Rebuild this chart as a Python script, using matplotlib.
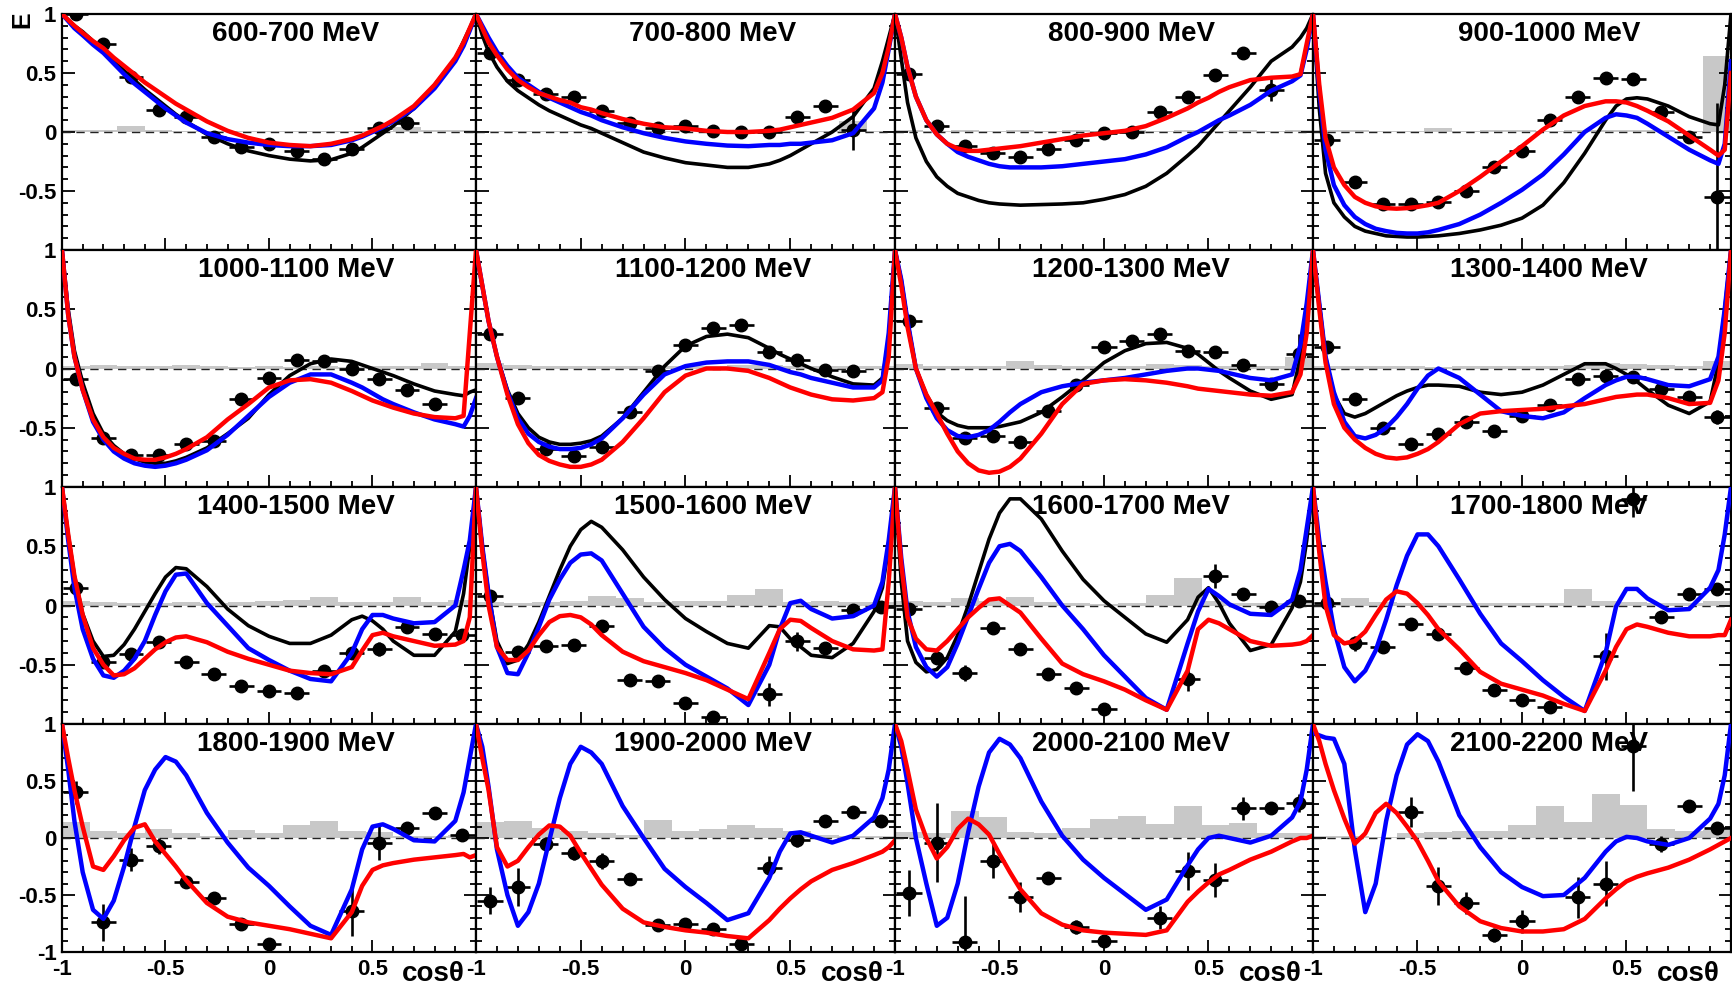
import numpy as np
import matplotlib
matplotlib.use("Agg")
import matplotlib.pyplot as plt
from matplotlib.ticker import MultipleLocator

plt.rcParams['font.family'] = ['Liberation Sans', 'DejaVu Sans']

nan = np.nan

ENERGY_LABELS = ["600-700 MeV", "700-800 MeV", "800-900 MeV", "900-1000 MeV",
                 "1000-1100 MeV", "1100-1200 MeV", "1200-1300 MeV", "1300-1400 MeV",
                 "1400-1500 MeV", "1500-1600 MeV", "1600-1700 MeV", "1700-1800 MeV",
                 "1800-1900 MeV", "1900-2000 MeV", "2000-2100 MeV", "2100-2200 MeV"]

# cos(theta) bin centres, 15 bins of width 2/15
COS_CENTERS = [-0.933, -0.8, -0.667, -0.533, -0.4, -0.267, -0.133, 0.0,
               0.133, 0.267, 0.4, 0.533, 0.667, 0.8, 0.933]
BIN_WIDTH = 2 / 15

# measured E per energy bin (nan = no point)
E_VALUES = [
    [1.0, 0.75, 0.47, 0.19, 0.13, -0.04, -0.13, -0.10, -0.16, -0.23, -0.14, 0.03, 0.08, nan, nan],
    [0.67, 0.44, 0.32, 0.30, 0.18, 0.08, 0.03, 0.05, 0.01, 0.0, 0.0, 0.13, 0.22, 0.02, nan],
    [0.49, 0.05, -0.12, -0.18, -0.21, -0.14, -0.07, -0.01, 0.0, 0.17, 0.30, 0.48, 0.67, 0.36, nan],
    [-0.07, -0.42, -0.61, -0.61, -0.59, -0.50, -0.30, -0.16, 0.10, 0.30, 0.46, 0.45, 0.17, -0.04, -0.55],
    [-0.09, -0.59, -0.73, -0.73, -0.64, -0.61, -0.26, -0.08, 0.07, 0.06, 0.0, -0.09, -0.18, -0.30, nan],
    [0.29, -0.25, -0.68, -0.74, -0.66, -0.37, -0.02, 0.20, 0.34, 0.37, 0.14, 0.07, -0.01, -0.02, nan],
    [0.40, -0.33, -0.59, -0.57, -0.62, -0.36, -0.14, 0.18, 0.23, 0.29, 0.15, 0.14, 0.03, -0.13, 0.12],
    [0.18, -0.26, -0.50, -0.64, -0.55, -0.45, -0.53, -0.40, -0.31, -0.09, -0.06, -0.07, -0.17, -0.24, -0.41],
    [0.15, -0.48, -0.41, -0.31, -0.48, -0.58, -0.68, -0.72, -0.74, -0.55, -0.40, -0.37, -0.18, -0.24, -0.25],
    [0.08, -0.39, -0.34, -0.33, -0.17, -0.63, -0.64, -0.82, -0.94, nan, -0.75, -0.30, -0.36, -0.04, -0.01],
    [-0.03, -0.44, -0.57, -0.19, -0.37, -0.58, -0.70, -0.87, nan, nan, -0.62, 0.25, 0.10, -0.01, 0.04],
    [0.02, -0.32, -0.35, -0.16, -0.24, -0.53, -0.71, -0.80, -0.86, nan, -0.43, 0.90, -0.10, 0.10, 0.14],
    [0.40, -0.74, -0.19, -0.07, -0.39, -0.53, -0.75, -0.93, nan, nan, -0.64, -0.04, 0.09, 0.22, 0.03],
    [-0.55, -0.43, -0.05, -0.13, -0.20, -0.36, -0.76, -0.75, -0.80, -0.93, -0.26, -0.02, 0.15, 0.23, 0.15],
    [-0.48, -0.04, -0.91, -0.20, -0.52, -0.35, -0.78, -0.90, nan, -0.70, -0.29, -0.37, 0.26, 0.26, 0.31],
    [nan, nan, nan, 0.23, -0.42, -0.57, -0.85, -0.73, nan, -0.52, -0.40, 0.81, -0.05, 0.28, 0.09],
]

E_ERRORS = [
    [0.03, 0.03, 0.03, 0.03, 0.03, 0.03, 0.03, 0.03, 0.03, 0.03, 0.03, 0.03, 0.03, 0, 0],
    [0.03, 0.03, 0.03, 0.03, 0.03, 0.03, 0.03, 0.03, 0.03, 0.03, 0.03, 0.03, 0.03, 0.17, 0],
    [0.03, 0.03, 0.03, 0.03, 0.03, 0.03, 0.03, 0.03, 0.03, 0.03, 0.03, 0.03, 0.03, 0.10, 0],
    [0.03, 0.03, 0.03, 0.03, 0.03, 0.03, 0.03, 0.03, 0.03, 0.03, 0.03, 0.03, 0.03, 0.03, 0.80],
    [0.03, 0.03, 0.03, 0.03, 0.03, 0.03, 0.03, 0.03, 0.03, 0.03, 0.03, 0.03, 0.03, 0.03, 0],
    [0.03, 0.03, 0.03, 0.03, 0.03, 0.03, 0.03, 0.03, 0.03, 0.03, 0.03, 0.03, 0.03, 0.03, 0],
    [0.03, 0.03, 0.03, 0.03, 0.03, 0.03, 0.03, 0.03, 0.03, 0.03, 0.03, 0.03, 0.03, 0.03, 0.17],
    [0.03, 0.03, 0.03, 0.03, 0.03, 0.03, 0.03, 0.03, 0.03, 0.03, 0.03, 0.03, 0.03, 0.03, 0.06],
    [0.03, 0.03, 0.03, 0.03, 0.03, 0.03, 0.03, 0.03, 0.03, 0.03, 0.03, 0.06, 0.03, 0.03, 0.03],
    [0.03, 0.03, 0.03, 0.03, 0.03, 0.03, 0.03, 0.03, 0.03, 0, 0.10, 0.08, 0.04, 0.03, 0.03],
    [0.03, 0.03, 0.07, 0.03, 0.03, 0.03, 0.03, 0.03, 0, 0, 0.10, 0.10, 0.04, 0.03, 0.04],
    [0.03, 0.06, 0.05, 0.04, 0.04, 0.03, 0.03, 0.03, 0.03, 0, 0.20, 0.15, 0.04, 0.03, 0.04],
    [0.10, 0.16, 0.10, 0.07, 0.05, 0.04, 0.04, 0.04, 0, 0, 0.22, 0.15, 0.05, 0.04, 0.04],
    [0.12, 0.17, 0.06, 0.06, 0.07, 0.04, 0.04, 0.04, 0.04, 0.04, 0.10, 0.06, 0.05, 0.04, 0.04],
    [0.20, 0.35, 0.40, 0.15, 0.13, 0.05, 0.06, 0.05, 0, 0.10, 0.17, 0.15, 0.10, 0.05, 0.08],
    [0, 0, 0, 0.13, 0.17, 0.10, 0.06, 0.10, 0, 0.18, 0.20, 0.40, 0.07, 0.05, 0.05],
]

# systematic uncertainty (grey histogram)
SYST_ERRORS = [
    [0.02, 0.02, 0.05, 0.02, 0.01, 0.01, 0.01, 0.01, 0.01, 0.01, 0.01, 0.01, 0.04, 0.02, 0.02],
    [0.01, 0.01, 0.01, 0.01, 0.02, 0.01, 0.01, 0.01, 0.01, 0.01, 0.01, 0.01, 0.01, 0.09, 0.01],
    [0.02, 0.01, 0.02, 0.01, 0.02, 0.01, 0.02, 0.01, 0.02, 0.01, 0.02, 0.01, 0.02, 0.01, 0.02],
    [0.02, 0.02, 0.01, 0.01, 0.03, 0.01, 0.02, 0.02, 0.01, 0.02, 0.02, 0.02, 0.02, 0.01, 0.64],
    [0.02, 0.03, 0.02, 0.02, 0.03, 0.02, 0.01, 0.02, 0.01, 0.02, 0.01, 0.02, 0.02, 0.05, 0.02],
    [0.05, 0.03, 0.02, 0.02, 0.02, 0.02, 0.02, 0.02, 0.02, 0.03, 0.03, 0.02, 0.02, 0.02, 0.02],
    [0.04, 0.02, 0.02, 0.02, 0.06, 0.03, 0.02, 0.02, 0.02, 0.04, 0.03, 0.02, 0.02, 0.02, 0.10],
    [0.02, 0.02, 0.02, 0.02, 0.01, 0.02, 0.02, 0.02, 0.02, 0.03, 0.05, 0.04, 0.03, 0.02, 0.06],
    [0.04, 0.03, 0.02, 0.02, 0.03, 0.02, 0.03, 0.04, 0.05, 0.07, 0.03, 0.03, 0.07, 0.03, 0.05],
    [0.03, 0.02, 0.03, 0.04, 0.08, 0.06, 0.03, 0.04, 0.04, 0.09, 0.14, 0.03, 0.04, 0.03, 0.03],
    [0.04, 0.03, 0.06, 0.04, 0.07, 0.03, 0.02, 0.01, 0.02, 0.09, 0.23, 0.04, 0.02, 0.02, 0.04],
    [0.03, 0.06, 0.03, 0.02, 0.02, 0.02, 0.02, 0.02, 0.02, 0.14, 0.04, 0.03, 0.02, 0.02, 0.04],
    [0.14, 0.06, 0.04, 0.08, 0.04, 0.02, 0.07, 0.04, 0.11, 0.15, 0.06, 0.05, 0.02, 0.02, 0.03],
    [0.14, 0.15, 0.09, 0.06, 0.04, 0.03, 0.16, 0.06, 0.08, 0.11, 0.09, 0.06, 0.03, 0.02, 0.02],
    [0.05, 0.04, 0.24, 0.18, 0.05, 0.04, 0.09, 0.17, 0.19, 0.12, 0.28, 0.11, 0.13, 0.04, 0.04],
    [0.02, 0.02, 0.01, 0.04, 0.05, 0.06, 0.06, 0.11, 0.28, 0.14, 0.39, 0.29, 0.08, 0.06, 0.07],
]

# model curves sampled at these cos(theta) values
CURVE_COS = [-1.0, -0.97, -0.94, -0.9, -0.85, -0.8, -0.75, -0.7, -0.65, -0.6, -0.55, -0.5,
             -0.45, -0.4, -0.3, -0.2, -0.1, 0.0, 0.1, 0.2, 0.3, 0.4, 0.45, 0.5, 0.55, 0.6,
             0.7, 0.8, 0.9, 0.94, 0.97, 1.0]

FIT_BLACK = [
    [1.0, 0.95, 0.9, 0.85, 0.77, 0.70, 0.61, 0.52, 0.44, 0.36, 0.29, 0.22, 0.15, 0.09, -0.02, -0.10,
     -0.16, -0.20, -0.23, -0.245, -0.235, -0.18, -0.13, -0.07, -0.01, 0.05, 0.20, 0.40, 0.62, 0.77, 0.88, 1.0],
    [1.0, 0.82, 0.68, 0.55, 0.43, 0.35, 0.29, 0.23, 0.18, 0.14, 0.10, 0.06, 0.03, -0.01, -0.09, -0.17,
     -0.22, -0.26, -0.28, -0.30, -0.30, -0.27, -0.24, -0.20, -0.15, -0.10, 0.0, 0.13, 0.37, 0.6, 0.8, 1.0],
    [1.0, 0.62, 0.25, -0.05, -0.25, -0.38, -0.46, -0.52, -0.55, -0.58, -0.60, -0.61, -0.615, -0.62, -0.615, -0.61,
     -0.60, -0.57, -0.53, -0.46, -0.35, -0.20, -0.12, -0.02, 0.08, 0.18, 0.38, 0.60, 0.72, 0.80, 0.88, 1.0],
    [1.0, 0.2, -0.35, -0.6, -0.72, -0.80, -0.84, -0.86, -0.88, -0.885, -0.89, -0.89, -0.885, -0.88, -0.86, -0.83,
     -0.79, -0.73, -0.62, -0.43, -0.18, 0.10, 0.22, 0.28, 0.29, 0.28, 0.22, 0.13, 0.07, 0.06, 0.4, 1.0],
    [1.0, 0.5, 0.15, -0.12, -0.38, -0.55, -0.65, -0.72, -0.76, -0.79, -0.80, -0.80, -0.78, -0.75, -0.67, -0.55,
     -0.42, -0.22, -0.06, 0.04, 0.08, 0.06, 0.03, 0.0, -0.03, -0.06, -0.13, -0.19, -0.22, -0.23, -0.2, -0.18],
    [1.0, 0.7, 0.4, 0.1, -0.18, -0.38, -0.50, -0.58, -0.62, -0.64, -0.64, -0.63, -0.61, -0.57, -0.42, -0.20,
     0.02, 0.19, 0.27, 0.29, 0.26, 0.17, 0.12, 0.08, 0.04, 0.0, -0.07, -0.13, -0.14, -0.08, 0.25, 1.0],
    [1.0, 0.75, 0.4, 0.0, -0.22, -0.37, -0.44, -0.48, -0.50, -0.50, -0.50, -0.49, -0.47, -0.45, -0.37, -0.24,
     -0.10, 0.05, 0.15, 0.21, 0.22, 0.17, 0.12, 0.05, -0.02, -0.08, -0.19, -0.26, -0.22, 0.1, 0.5, 1.0],
    [1.0, 0.55, 0.1, -0.22, -0.38, -0.41, -0.38, -0.33, -0.28, -0.23, -0.19, -0.16, -0.14, -0.14, -0.15, -0.20,
     -0.22, -0.20, -0.14, -0.05, 0.04, 0.04, 0.0, -0.05, -0.11, -0.18, -0.31, -0.38, -0.28, 0.05, 0.5, 1.0],
    [1.0, 0.6, 0.25, -0.07, -0.30, -0.43, -0.42, -0.33, -0.20, -0.05, 0.10, 0.24, 0.32, 0.31, 0.16, -0.03,
     -0.17, -0.26, -0.32, -0.32, -0.25, -0.12, -0.09, -0.13, -0.20, -0.30, -0.42, -0.42, -0.22, 0.1, 0.5, 1.0],
    [1.0, 0.5, 0.1, -0.3, -0.49, -0.46, -0.33, -0.14, 0.08, 0.30, 0.50, 0.64, 0.71, 0.66, 0.47, 0.24,
     0.05, -0.11, -0.22, -0.32, -0.36, -0.17, -0.18, -0.28, -0.35, -0.42, -0.44, -0.32, -0.05, 0.15, 0.5, 1.0],
    [1.0, 0.2, -0.3, -0.48, -0.56, -0.54, -0.44, -0.25, 0.0, 0.28, 0.56, 0.78, 0.90, 0.90, 0.73, 0.46,
     0.22, 0.04, -0.10, -0.24, -0.31, -0.12, 0.07, 0.15, 0.02, -0.15, -0.38, -0.33, -0.02, 0.2, 0.55, 1.0],
    None, None, None, None, None,
]

FIT_BLUE = [
    [1.0, 0.94, 0.88, 0.82, 0.74, 0.67, 0.58, 0.49, 0.41, 0.34, 0.27, 0.20, 0.14, 0.08, -0.01, -0.06,
     -0.09, -0.11, -0.12, -0.12, -0.11, -0.07, -0.04, 0.0, 0.04, 0.09, 0.20, 0.37, 0.60, 0.73, 0.86, 1.0],
    [1.0, 0.9, 0.8, 0.68, 0.56, 0.46, 0.40, 0.34, 0.29, 0.25, 0.21, 0.17, 0.14, 0.10, 0.04, -0.01,
     -0.05, -0.08, -0.10, -0.115, -0.12, -0.11, -0.11, -0.10, -0.10, -0.09, -0.07, -0.01, 0.2, 0.42, 0.7, 1.0],
    [1.0, 0.8, 0.55, 0.3, 0.1, -0.02, -0.10, -0.17, -0.21, -0.24, -0.27, -0.29, -0.30, -0.30, -0.30, -0.29,
     -0.27, -0.25, -0.23, -0.19, -0.13, -0.04, 0.0, 0.05, 0.10, 0.14, 0.23, 0.35, 0.43, 0.48, 0.7, 1.0],
    [1.0, 0.35, -0.15, -0.45, -0.62, -0.72, -0.78, -0.82, -0.84, -0.855, -0.86, -0.86, -0.85, -0.83, -0.78, -0.70,
     -0.60, -0.49, -0.36, -0.19, 0.0, 0.12, 0.15, 0.14, 0.12, 0.07, -0.04, -0.15, -0.24, -0.27, -0.1, 0.6],
    [1.0, 0.45, 0.1, -0.18, -0.45, -0.60, -0.70, -0.76, -0.80, -0.82, -0.83, -0.82, -0.80, -0.77, -0.69, -0.56,
     -0.40, -0.24, -0.12, -0.05, -0.05, -0.12, -0.16, -0.21, -0.26, -0.30, -0.37, -0.43, -0.47, -0.49, -0.4, -0.25],
    [1.0, 0.7, 0.4, 0.1, -0.20, -0.42, -0.55, -0.62, -0.66, -0.68, -0.68, -0.67, -0.64, -0.59, -0.42, -0.22,
     -0.05, 0.02, 0.05, 0.06, 0.06, 0.03, 0.0, -0.03, -0.05, -0.08, -0.12, -0.16, -0.16, -0.10, 0.3, 1.0],
    [1.0, 0.75, 0.4, 0.0, -0.25, -0.42, -0.52, -0.57, -0.58, -0.56, -0.52, -0.45, -0.37, -0.30, -0.20, -0.15,
     -0.12, -0.10, -0.08, -0.05, -0.02, 0.0, 0.0, -0.01, -0.02, -0.04, -0.08, -0.10, -0.05, 0.2, 0.55, 1.0],
    [1.0, 0.55, 0.1, -0.2, -0.45, -0.57, -0.59, -0.56, -0.50, -0.41, -0.30, -0.17, -0.06, 0.0, -0.08, -0.22,
     -0.36, -0.40, -0.42, -0.37, -0.25, -0.14, -0.10, -0.07, -0.07, -0.09, -0.14, -0.15, -0.09, 0.1, 0.5, 1.0],
    [1.0, 0.55, 0.15, -0.2, -0.45, -0.59, -0.61, -0.55, -0.45, -0.30, -0.08, 0.12, 0.26, 0.27, 0.02, -0.17,
     -0.36, -0.46, -0.55, -0.62, -0.64, -0.40, -0.20, -0.08, -0.08, -0.11, -0.15, -0.14, 0.0, 0.3, 0.55, 1.0],
    [1.0, 0.5, 0.1, -0.35, -0.57, -0.58, -0.40, -0.18, 0.05, 0.22, 0.36, 0.43, 0.44, 0.38, 0.10, -0.18,
     -0.36, -0.50, -0.60, -0.70, -0.84, -0.50, -0.20, 0.02, 0.04, -0.03, -0.11, -0.09, 0.0, 0.2, 0.55, 1.0],
    [1.0, 0.4, -0.05, -0.35, -0.52, -0.60, -0.52, -0.32, -0.09, 0.14, 0.36, 0.50, 0.52, 0.46, 0.24, 0.0,
     -0.20, -0.42, -0.60, -0.78, -0.88, -0.32, -0.05, 0.14, 0.08, 0.01, -0.07, -0.08, 0.05, 0.3, 0.65, 1.0],
    [1.0, 0.55, 0.2, -0.2, -0.52, -0.64, -0.55, -0.38, -0.12, 0.17, 0.42, 0.60, 0.60, 0.50, 0.22, -0.07,
     -0.32, -0.47, -0.63, -0.77, -0.89, -0.40, -0.01, 0.14, 0.14, 0.06, -0.04, -0.03, 0.15, 0.3, 0.6, 1.0],
    [1.0, 0.6, 0.15, -0.3, -0.63, -0.71, -0.55, -0.25, 0.10, 0.42, 0.60, 0.71, 0.67, 0.55, 0.22, -0.04,
     -0.26, -0.42, -0.60, -0.77, -0.85, -0.45, -0.10, 0.10, 0.12, 0.08, -0.02, -0.03, 0.15, 0.4, 0.7, 1.0],
    [1.0, 0.8, 0.45, -0.1, -0.5, -0.77, -0.65, -0.40, -0.02, 0.35, 0.65, 0.80, 0.75, 0.65, 0.28, 0.0,
     -0.27, -0.43, -0.57, -0.72, -0.66, -0.35, -0.12, 0.04, 0.05, 0.02, -0.04, 0.02, 0.18, 0.35, 0.6, 1.0],
    [1.0, 0.8, 0.48, 0.0, -0.4, -0.77, -0.70, -0.40, 0.05, 0.45, 0.75, 0.87, 0.82, 0.70, 0.32, 0.02,
     -0.19, -0.35, -0.49, -0.63, -0.54, -0.24, -0.10, 0.0, 0.02, 0.0, -0.04, 0.02, 0.18, 0.32, 0.6, 1.0],
    [0.92, 0.9, 0.88, 0.87, 0.65, -0.1, -0.65, -0.40, 0.15, 0.55, 0.82, 0.91, 0.85, 0.67, 0.20, -0.08,
     -0.30, -0.43, -0.51, -0.50, -0.35, -0.12, -0.03, 0.01, 0.0, -0.03, -0.06, 0.0, 0.17, 0.30, 0.55, 1.0],
]

FIT_RED = [
    [1.0, 0.95, 0.9, 0.84, 0.77, 0.71, 0.63, 0.56, 0.49, 0.42, 0.36, 0.30, 0.24, 0.19, 0.09, 0.01,
     -0.05, -0.09, -0.11, -0.12, -0.10, -0.06, -0.03, 0.01, 0.05, 0.10, 0.22, 0.40, 0.63, 0.76, 0.88, 1.0],
    [1.0, 0.88, 0.76, 0.65, 0.53, 0.44, 0.38, 0.33, 0.30, 0.27, 0.25, 0.21, 0.19, 0.16, 0.11, 0.07,
     0.04, 0.03, 0.01, 0.0, 0.0, 0.01, 0.02, 0.04, 0.06, 0.08, 0.12, 0.19, 0.33, 0.5, 0.72, 1.0],
    [1.0, 0.8, 0.55, 0.3, 0.1, -0.02, -0.10, -0.14, -0.16, -0.16, -0.15, -0.14, -0.13, -0.12, -0.09, -0.06,
     -0.03, -0.01, 0.01, 0.05, 0.12, 0.20, 0.25, 0.29, 0.34, 0.38, 0.44, 0.46, 0.47, 0.49, 0.75, 1.0],
    [1.0, 0.4, -0.05, -0.3, -0.45, -0.55, -0.60, -0.63, -0.645, -0.65, -0.645, -0.635, -0.62, -0.60, -0.50, -0.38,
     -0.25, -0.12, 0.02, 0.14, 0.22, 0.26, 0.26, 0.25, 0.22, 0.18, 0.09, -0.03, -0.15, -0.2, -0.15, 0.5],
    [1.0, 0.45, 0.1, -0.18, -0.43, -0.58, -0.67, -0.72, -0.76, -0.77, -0.77, -0.75, -0.72, -0.68, -0.58, -0.43,
     -0.30, -0.16, -0.10, -0.09, -0.12, -0.19, -0.23, -0.27, -0.30, -0.33, -0.38, -0.41, -0.42, -0.40, 0.3, 1.0],
    [1.0, 0.7, 0.4, 0.1, -0.22, -0.47, -0.63, -0.73, -0.78, -0.81, -0.83, -0.83, -0.81, -0.77, -0.62, -0.42,
     -0.20, -0.06, 0.0, 0.0, -0.02, -0.08, -0.12, -0.16, -0.19, -0.22, -0.26, -0.27, -0.25, -0.20, 0.1, 1.0],
    [1.0, 0.7, 0.35, 0.0, -0.22, -0.38, -0.55, -0.70, -0.80, -0.86, -0.88, -0.87, -0.83, -0.76, -0.55, -0.30,
     -0.13, -0.10, -0.09, -0.10, -0.12, -0.15, -0.17, -0.18, -0.19, -0.20, -0.22, -0.23, -0.20, -0.05, 0.3, 1.0],
    [1.0, 0.5, 0.05, -0.3, -0.5, -0.60, -0.67, -0.72, -0.75, -0.76, -0.75, -0.72, -0.68, -0.62, -0.47, -0.38,
     -0.36, -0.35, -0.34, -0.32, -0.30, -0.26, -0.24, -0.23, -0.22, -0.22, -0.25, -0.30, -0.29, -0.10, 0.3, 1.0],
    [1.0, 0.6, 0.25, -0.08, -0.36, -0.50, -0.59, -0.58, -0.53, -0.45, -0.37, -0.31, -0.27, -0.26, -0.31, -0.39,
     -0.45, -0.50, -0.55, -0.57, -0.58, -0.52, -0.38, -0.25, -0.23, -0.26, -0.30, -0.34, -0.33, -0.3, -0.1, 1.0],
    [1.0, 0.45, 0.0, -0.35, -0.46, -0.46, -0.38, -0.25, -0.14, -0.09, -0.08, -0.10, -0.16, -0.25, -0.39, -0.47,
     -0.52, -0.57, -0.63, -0.71, -0.79, -0.40, -0.20, -0.12, -0.13, -0.19, -0.30, -0.37, -0.38, -0.37, 0.2, 1.0],
    [1.0, 0.35, -0.10, -0.28, -0.37, -0.38, -0.30, -0.20, -0.10, -0.02, 0.05, 0.06, 0.0, -0.06, -0.28, -0.49,
     -0.58, -0.64, -0.71, -0.80, -0.88, -0.55, -0.20, -0.12, -0.15, -0.20, -0.30, -0.34, -0.33, -0.32, -0.3, -0.25],
    [1.0, 0.45, 0.0, -0.25, -0.32, -0.30, -0.22, -0.08, 0.05, 0.12, 0.10, 0.02, -0.08, -0.20, -0.37, -0.56,
     -0.66, -0.71, -0.76, -0.83, -0.89, -0.55, -0.35, -0.20, -0.16, -0.18, -0.23, -0.26, -0.26, -0.25, -0.25, -0.12],
    [1.0, 0.7, 0.42, 0.1, -0.25, -0.28, -0.16, -0.02, 0.09, 0.12, -0.03, -0.14, -0.25, -0.37, -0.57, -0.69,
     -0.74, -0.77, -0.80, -0.84, -0.88, -0.65, -0.42, -0.28, -0.24, -0.22, -0.19, -0.17, -0.15, -0.14, -0.17, -0.15],
    [1.0, 0.7, 0.42, -0.08, -0.25, -0.20, -0.08, 0.03, 0.11, 0.10, 0.02, -0.13, -0.27, -0.41, -0.62, -0.74,
     -0.78, -0.81, -0.83, -0.86, -0.88, -0.72, -0.62, -0.53, -0.45, -0.38, -0.28, -0.22, -0.15, -0.12, -0.08, -0.02],
    [1.0, 0.85, 0.6, 0.25, 0.0, -0.18, -0.08, 0.08, 0.17, 0.12, 0.03, -0.14, -0.30, -0.45, -0.66, -0.76,
     -0.81, -0.83, -0.84, -0.85, -0.81, -0.56, -0.47, -0.39, -0.32, -0.28, -0.19, -0.12, -0.03, 0.0, 0.0, 0.02],
    [1.0, 0.85, 0.65, 0.42, 0.17, -0.05, 0.04, 0.22, 0.30, 0.22, 0.10, -0.03, -0.20, -0.38, -0.60, -0.73,
     -0.79, -0.82, -0.82, -0.80, -0.71, -0.53, -0.45, -0.38, -0.34, -0.31, -0.26, -0.19, -0.10, -0.06, -0.03, 0.0],
]

# panel geometry in pixels of the 1733x989 canvas
W, H = 1733, 989
COL_EDGES = [62, 476, 895, 1313, 1731]
ROW_EDGES = [14, 250, 487, 724, 952]

fig = plt.figure(figsize=(W / 100, H / 100), dpi=100)
fig.patch.set_facecolor('white')

cos_c = np.array(COS_CENTERS)

for i in range(16):
    r, c = divmod(i, 4)
    x0, x1 = COL_EDGES[c], COL_EDGES[c + 1]
    y0, y1 = ROW_EDGES[r], ROW_EDGES[r + 1]
    ax = fig.add_axes([x0 / W, 1 - y1 / H, (x1 - x0) / W, (y1 - y0) / H])
    ax.set_xlim(-1, 1)
    ax.set_ylim(-1, 1)

    # systematic errors
    ax.bar(cos_c, SYST_ERRORS[i], width=BIN_WIDTH, color='#c8c8c8', lw=0, zorder=1)
    ax.axhline(0, color='#222222', lw=1.0, ls=(0, (6, 4)), zorder=2)

    # data points
    vals = np.array(E_VALUES[i])
    errs = np.array(E_ERRORS[i])
    ok = ~np.isnan(vals)
    ax.errorbar(cos_c[ok], vals[ok], xerr=0.06, yerr=errs[ok], fmt='o', color='black',
                ms=9, elinewidth=1.9, capsize=0, zorder=3)

    # model curves
    if FIT_BLACK[i] is not None:
        ax.plot(CURVE_COS, FIT_BLACK[i], color='black', lw=2.6, zorder=4,
                solid_joinstyle='round')
    ax.plot(CURVE_COS, FIT_BLUE[i], color='#0000ff', lw=3.2, zorder=5, solid_joinstyle='round')
    ax.plot(CURVE_COS, FIT_RED[i], color='#ff0000', lw=3.2, zorder=6, solid_joinstyle='round')

    ax.text(0.565, 1 - 20 / (y1 - y0), ENERGY_LABELS[i], transform=ax.transAxes,
            ha='center', va='center', fontsize=20, fontweight='bold', zorder=10)

    # axes styling (ROOT-like)
    for sp in ax.spines.values():
        sp.set_linewidth(1.6)
    ax.xaxis.set_major_locator(MultipleLocator(0.5))
    ax.xaxis.set_minor_locator(MultipleLocator(0.1))
    ax.yaxis.set_major_locator(MultipleLocator(0.5))
    ax.yaxis.set_minor_locator(MultipleLocator(0.1))
    ax.tick_params(which='both', direction='in', top=False, right=True, width=1.3)
    ax.tick_params(which='major', length=9)
    ax.tick_params(which='minor', length=4)

    if c == 0:
        ax.set_yticks([-1, -0.5, 0, 0.5, 1])
        ylabels = ['-1', '-0.5', '0', '0.5', '1'] if r == 3 else ['', '-0.5', '0', '0.5', '1']
        ax.set_yticklabels(ylabels, fontsize=16, fontweight='bold')
        ax.tick_params(axis='y', pad=4)
    else:
        ax.tick_params(labelleft=False)

    if r == 3:
        ax.set_xticks([-1, -0.5, 0, 0.5, 1])
        ax.set_xticklabels(['-1', '-0.5', '0', '0.5', ''], fontsize=16, fontweight='bold')
        ax.tick_params(axis='x', pad=5)
        fig.text((x1 - 11) / W, 2 / H, 'cos\u03b8', ha='right', va='bottom', fontsize=20,
                 fontweight='bold')
    else:
        ax.tick_params(labelbottom=False)

fig.text(22 / W, 1 - 20 / H, 'E', rotation=90, ha='center', va='center',
         fontsize=18, fontweight='bold')

fig.savefig('out.png', dpi=100)
